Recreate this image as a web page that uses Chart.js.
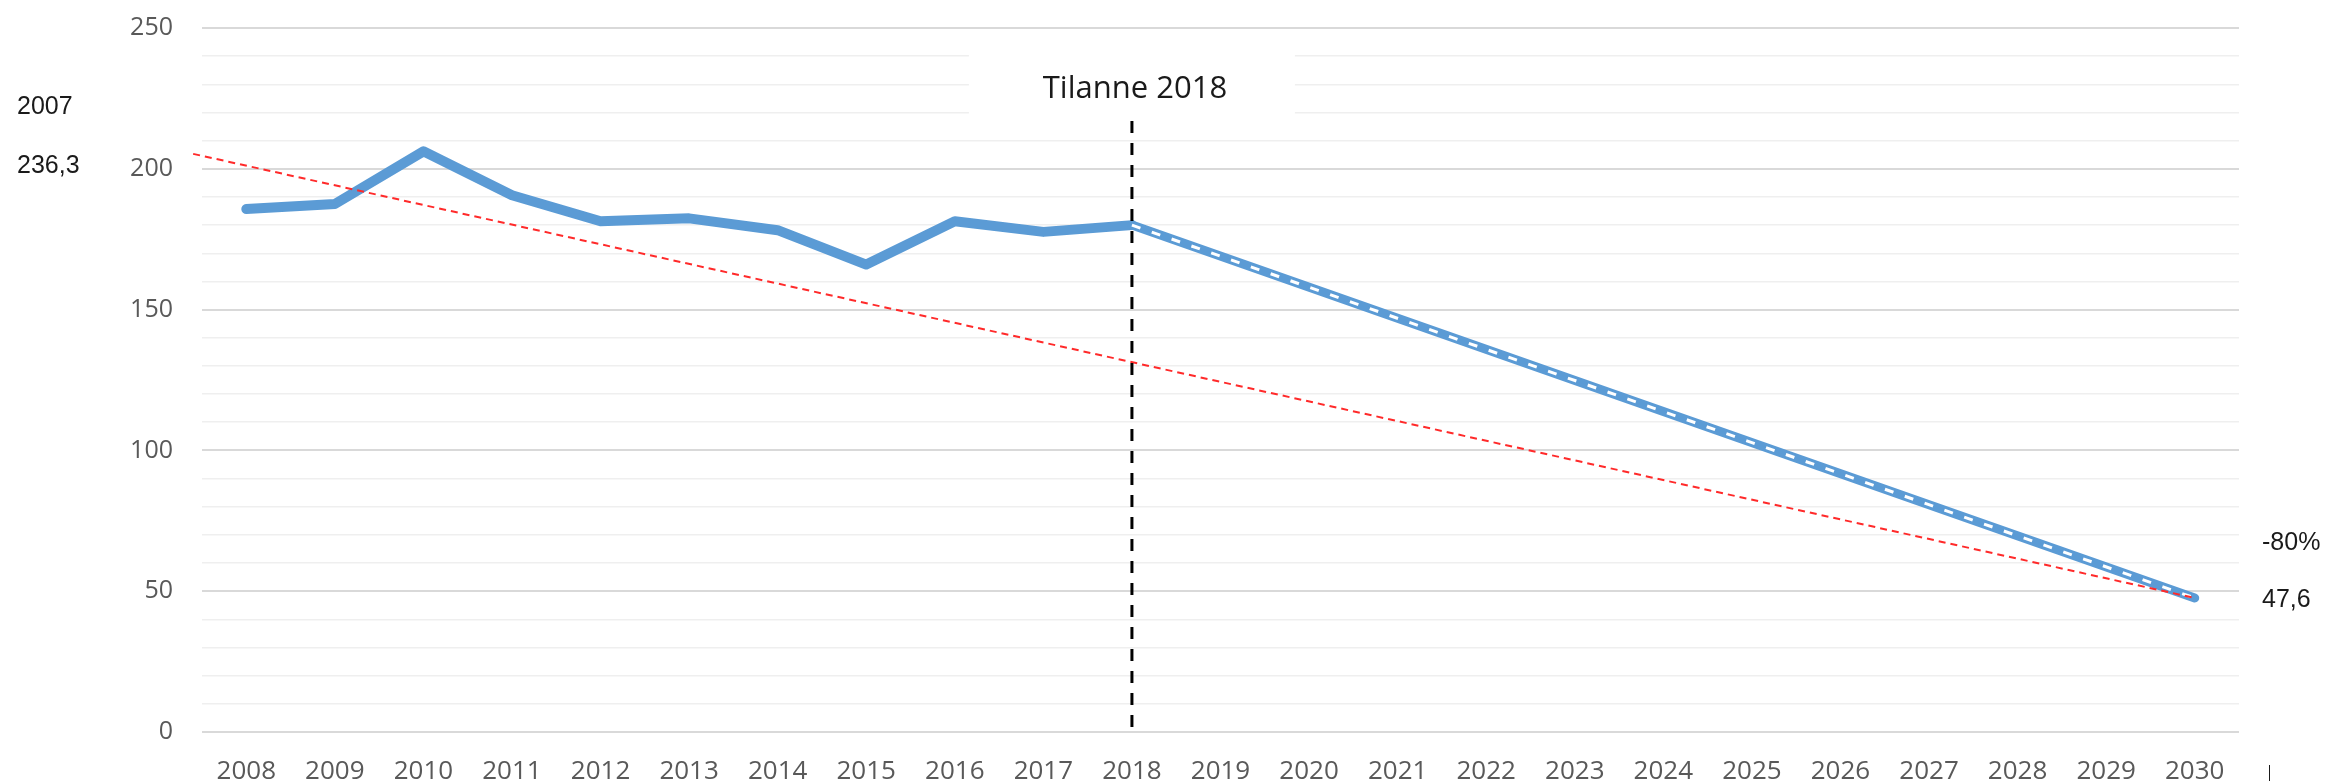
<!DOCTYPE html>
<html>
<head>
<meta charset="utf-8">
<script src="https://cdn.jsdelivr.net/npm/chart.js@4.4.1/dist/chart.umd.min.js"></script>
<style>
  html, body { margin: 0; padding: 0; background: #fff; }
  #wrap { width: 2328px; height: 781px; }
</style>
</head>
<body>
<div id="wrap"><canvas id="chart" width="2328" height="781"></canvas></div>
<script>
'use strict';

// ============================================================
// DATA
// ============================================================
const years = [2008, 2009, 2010, 2011, 2012, 2013, 2014, 2015, 2016, 2017, 2018, 2019,
               2020, 2021, 2022, 2023, 2024, 2025, 2026, 2027, 2028, 2029, 2030];
const histYears  = [2008, 2009, 2010, 2011, 2012, 2013, 2014, 2015, 2016, 2017, 2018];
const histValues = [185.7, 187.5, 206.2, 190.6, 181.4, 182.4, 178.2, 166.0, 181.4, 177.6, 180.0];
const projYears  = [2018, 2030];
const projValues = [180.0, 47.6];
const trendYears  = [2007.4, 2030];
const trendValues = [205.3, 47.6];
const markerYears  = [2018, 2018];
const markerValues = [217, -1.5];
const yTicks = [0, 50, 100, 150, 200, 250];
const markerLabel = 'Tilanne 2018';
const leftNotes  = ['2007', '236,3'];
const rightNotes = ['-80%', '47,6'];

const BLUE = '#5B9BD5';
const points = (xs, ys) => xs.map((x, i) => ({ x, y: ys[i] }));

// ============================================================
// ANNOTATIONS
// ============================================================
const notesPlugin = {
  id: 'notes',
  beforeDatasetsDraw(chart) {
    const { ctx, chartArea, scales } = chart;
    const cx = scales.x.getPixelForValue(2018);
    ctx.save();
    ctx.fillStyle = '#fff';
    ctx.fillRect(cx - 163, chartArea.top + 5, 326, 92);
    ctx.fillStyle = '#1a1a1a';
    ctx.font = '31px "Open Sans"';
    ctx.textAlign = 'center';
    ctx.textBaseline = 'alphabetic';
    ctx.fillText(markerLabel, cx + 3, chartArea.top + 70);
    ctx.restore();
  },
  afterDraw(chart) {
    const { ctx, chartArea, scales } = chart;
    ctx.save();
    ctx.fillStyle = '#1a1a1a';
    ctx.font = '25px "Liberation Sans", Arial';
    ctx.textAlign = 'left';
    ctx.textBaseline = 'middle';
    ctx.fillText(leftNotes[0], 17, chartArea.top + 79);
    ctx.fillText(leftNotes[1], 17, chartArea.top + 138);
    const ry = scales.y.getPixelForValue(47.6);
    ctx.fillText(rightNotes[0], chartArea.right + 23, ry - 55);
    ctx.fillText(rightNotes[1], chartArea.right + 23, ry + 2);
    // small stray tick at bottom right
    ctx.strokeStyle = '#1a1a1a';
    ctx.lineWidth = 1;
    ctx.beginPath();
    ctx.moveTo(chartArea.right + 30.5, chartArea.bottom + 33);
    ctx.lineTo(chartArea.right + 30.5, chartArea.bottom + 49);
    ctx.stroke();
    ctx.restore();
  }
};

// ============================================================
// CHART
// ============================================================
new Chart(document.getElementById('chart'), {
  type: 'line',
  data: {
    datasets: [
      { // Tilanne 2018 marker
        data: points(markerYears, markerValues),
        borderColor: '#000', borderWidth: 3, borderDash: [12, 10],
        pointRadius: 0, clip: false, order: 0,
      },
      { // -80 % trend
        data: points(trendYears, trendValues),
        borderColor: '#ff2a2a', borderWidth: 2, borderDash: [7, 5],
        pointRadius: 0, clip: false, order: 1,
      },
      { // projection dash overlay
        data: points(projYears, projValues),
        borderColor: '#fff', borderWidth: 3, borderDash: [9, 12],
        pointRadius: 0, order: 2,
      },
      { // projection
        data: points(projYears, projValues),
        borderColor: BLUE, borderWidth: 9, borderCapStyle: 'round', borderJoinStyle: 'round',
        pointRadius: 0, clip: false, order: 3,
      },
      { // history
        data: points(histYears, histValues),
        borderColor: BLUE, borderWidth: 10, borderCapStyle: 'round', borderJoinStyle: 'round',
        pointRadius: 0, clip: false, order: 4,
      },
    ]
  },
  options: {
    responsive: false,
    animation: false,
    events: [],
    layout: { padding: { top: 28, right: 89, bottom: 0, left: 0 } },
    plugins: { legend: { display: false }, tooltip: { enabled: false } },
    scales: {
      x: {
        type: 'linear', min: 2007.5, max: 2030.5,
        afterBuildTicks: s => { s.ticks = years.map(v => ({ value: v })); },
        afterFit: s => { s.height = 49; },
        grid: { display: false, drawTicks: false },
        border: { display: false },
        ticks: {
          autoSkip: false, maxRotation: 0, padding: 24,
          color: '#595959', font: { family: '"Open Sans"', size: 26 },
          callback: v => String(v),
        },
      },
      y: {
        min: 0, max: 250,
        afterFit: s => { s.width = 202; s.paddingTop = 0; s.paddingBottom = 0; },
        grid: {
          drawTicks: false,
          color: c => (c.tick && c.tick.value % 50 === 0) ? '#d9d9d9' : '#efefef',
          lineWidth: c => (c.tick && c.tick.value % 50 === 0) ? 2 : 1.5,
        },
        border: { display: false },
        ticks: {
          stepSize: 10, autoSkip: false, padding: 29,
          color: '#595959', font: { family: '"Open Sans"', size: 25 },
          callback: v => yTicks.includes(v) ? String(v) : '',
        },
      },
    },
  },
  plugins: [notesPlugin],
});
</script>
</body>
</html>
